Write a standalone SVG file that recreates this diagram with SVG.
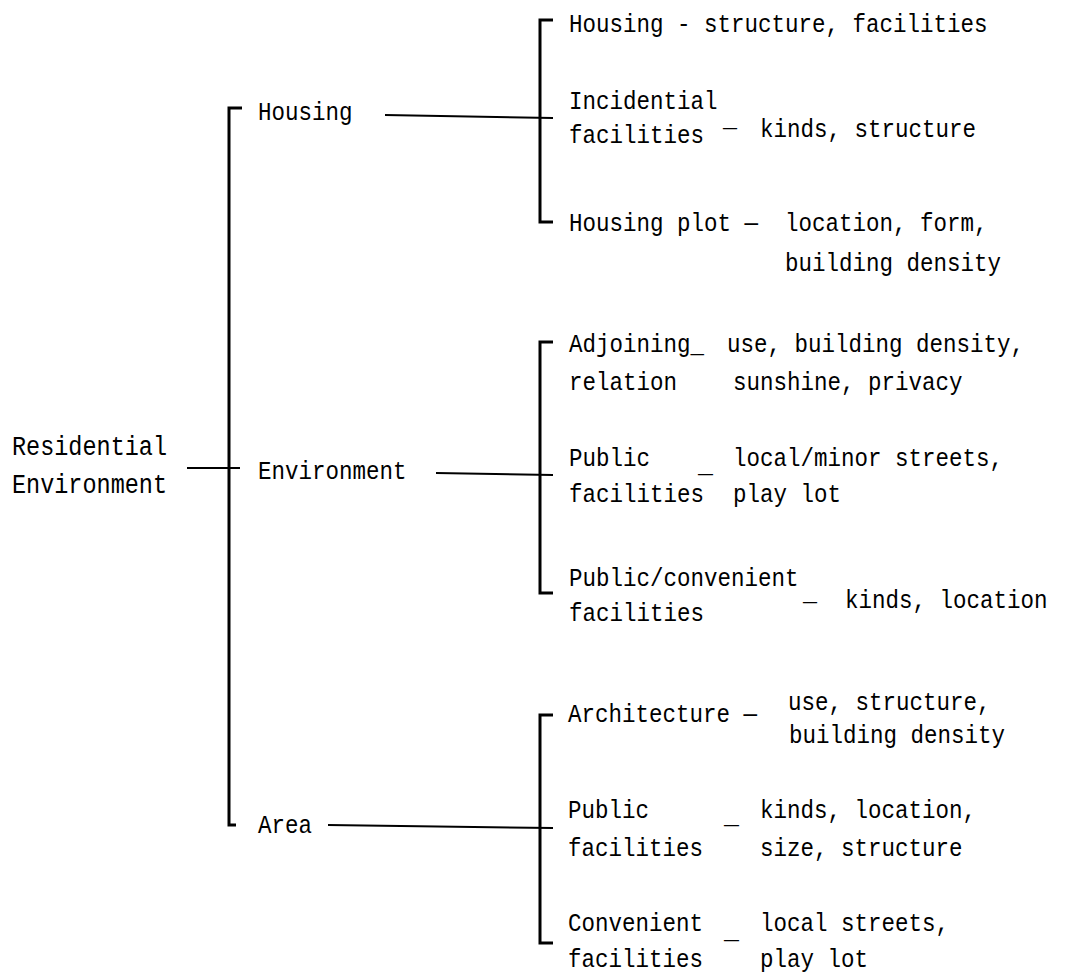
<svg xmlns="http://www.w3.org/2000/svg" width="1073" height="977" viewBox="0 0 1073 977">
<style>
text{font-family:"Liberation Mono","DejaVu Sans Mono",monospace;font-size:25px;fill:#000;white-space:pre;}
.root{font-size:27px;}
.d{font-size:20px;}
.d2{font-size:16px;}
.c line,.c path{stroke:#000;stroke-width:2;fill:none;}
.c .b{stroke-width:3;}
</style>
<rect width="1073" height="977" fill="#fff"/>
<g id="connectors" class="c">
  <line x1="187" y1="468" x2="240" y2="468"/>
  <path class="b" d="M242,108 H229 V825 H236"/>
  <line x1="385" y1="115" x2="553" y2="118"/>
  <line x1="436" y1="473" x2="553" y2="475"/>
  <line x1="328" y1="825" x2="553" y2="828"/>
  <path class="b" d="M553,20 H540 V222 H553"/>
  <path class="b" d="M553,342 H540 V593 H553"/>
  <path class="b" d="M553,715 H540 V943 H553"/>
</g>
<g id="n-root">
  <text class="root" x="12" y="455" textLength="155" lengthAdjust="spacingAndGlyphs">Residential</text>
  <text class="root" x="12" y="493" textLength="155" lengthAdjust="spacingAndGlyphs">Environment</text>
</g>
<g id="n-housing">
  <text x="258" y="120" textLength="94.5" lengthAdjust="spacingAndGlyphs">Housing</text>
</g>
<g id="n-environment">
  <text x="258" y="479" textLength="148.5" lengthAdjust="spacingAndGlyphs">Environment</text>
</g>
<g id="n-area">
  <text x="258" y="833" textLength="54" lengthAdjust="spacingAndGlyphs">Area</text>
</g>
<g id="n-housing-structure">
  <text x="569" y="32" textLength="418.5" lengthAdjust="spacingAndGlyphs">Housing - structure, facilities</text>
</g>
<g id="n-incidential">
  <text x="569" y="109" textLength="148.5" lengthAdjust="spacingAndGlyphs">Incidential</text>
  <text x="569" y="143" textLength="135" lengthAdjust="spacingAndGlyphs">facilities</text>
  <text class="d" x="723" y="134" textLength="14" lengthAdjust="spacingAndGlyphs">—</text>
  <text x="760" y="137" textLength="216" lengthAdjust="spacingAndGlyphs">kinds, structure</text>
</g>
<g id="n-housing-plot">
  <text x="569" y="231" textLength="418.5" lengthAdjust="spacingAndGlyphs" xml:space="preserve">Housing plot —  location, form,</text>
  <text x="785" y="271" textLength="216" lengthAdjust="spacingAndGlyphs">building density</text>
</g>
<g id="n-adjoining">
  <text x="569" y="352" textLength="135" lengthAdjust="spacingAndGlyphs">Adjoining_</text>
  <text x="569" y="390" textLength="108" lengthAdjust="spacingAndGlyphs">relation</text>
  <text x="727" y="352" textLength="297" lengthAdjust="spacingAndGlyphs">use, building density,</text>
  <text x="733" y="390" textLength="229.5" lengthAdjust="spacingAndGlyphs">sunshine, privacy</text>
</g>
<g id="n-public-env">
  <text x="569" y="466" textLength="81" lengthAdjust="spacingAndGlyphs">Public</text>
  <text x="569" y="502" textLength="135" lengthAdjust="spacingAndGlyphs">facilities</text>
  <text x="698" y="472" textLength="15" lengthAdjust="spacingAndGlyphs">_</text>
  <text x="733" y="466" textLength="270" lengthAdjust="spacingAndGlyphs">local/minor streets,</text>
  <text x="733" y="502" textLength="108" lengthAdjust="spacingAndGlyphs">play lot</text>
</g>
<g id="n-public-convenient">
  <text x="569" y="586" textLength="229.5" lengthAdjust="spacingAndGlyphs">Public/convenient</text>
  <text x="569" y="621" textLength="135" lengthAdjust="spacingAndGlyphs">facilities</text>
  <text class="d2" x="803" y="607" textLength="14" lengthAdjust="spacingAndGlyphs">—</text>
  <text x="845" y="608" textLength="202.5" lengthAdjust="spacingAndGlyphs">kinds, location</text>
</g>
<g id="n-architecture">
  <text x="568" y="722" textLength="189" lengthAdjust="spacingAndGlyphs" xml:space="preserve">Architecture —</text>
  <text x="788" y="710" textLength="202.5" lengthAdjust="spacingAndGlyphs">use, structure,</text>
  <text x="789" y="743" textLength="216" lengthAdjust="spacingAndGlyphs">building density</text>
</g>
<g id="n-public-area">
  <text x="568" y="818" textLength="81" lengthAdjust="spacingAndGlyphs">Public</text>
  <text x="568" y="856" textLength="135" lengthAdjust="spacingAndGlyphs">facilities</text>
  <text x="724" y="823" textLength="15" lengthAdjust="spacingAndGlyphs">_</text>
  <text x="760" y="818" textLength="216" lengthAdjust="spacingAndGlyphs">kinds, location,</text>
  <text x="760" y="856" textLength="202.5" lengthAdjust="spacingAndGlyphs">size, structure</text>
</g>
<g id="n-convenient">
  <text x="568" y="931" textLength="135" lengthAdjust="spacingAndGlyphs">Convenient</text>
  <text x="568" y="967" textLength="135" lengthAdjust="spacingAndGlyphs">facilities</text>
  <text x="724" y="938" textLength="15" lengthAdjust="spacingAndGlyphs">_</text>
  <text x="760" y="931" textLength="189" lengthAdjust="spacingAndGlyphs">local streets,</text>
  <text x="760" y="967" textLength="108" lengthAdjust="spacingAndGlyphs">play lot</text>
</g>
</svg>
